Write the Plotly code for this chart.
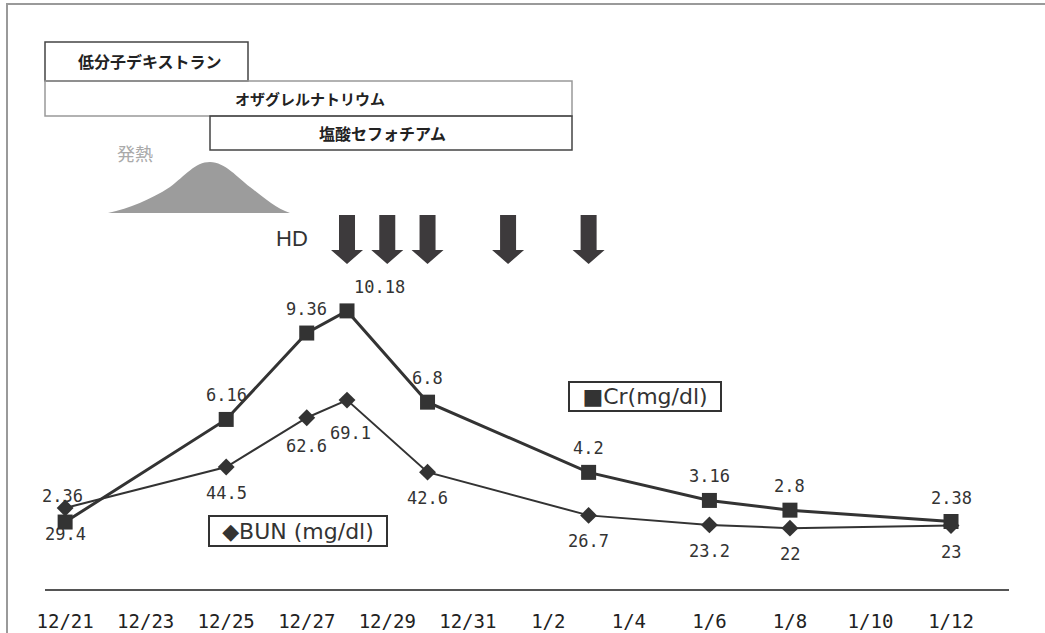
import pandas as pd
import plotly.graph_objects as go

# Lab values on measurement days
dates = ["2000-12-21", "2000-12-25", "2000-12-27", "2000-12-28", "2000-12-30",
         "2001-01-03", "2001-01-06", "2001-01-08", "2001-01-12"]
cr = [2.36, 6.16, 9.36, 10.18, 6.8, 4.2, 3.16, 2.8, 2.38]
bun = [29.4, 44.5, 62.6, 69.1, 42.6, 26.7, 23.2, 22, 23]

# Hemodialysis sessions
hd_dates = ["2000-12-28", "2000-12-29", "2000-12-30", "2001-01-01", "2001-01-03"]

# Date ticks
tick_dates = ["2000-12-21", "2000-12-23", "2000-12-25", "2000-12-27", "2000-12-29",
              "2000-12-31", "2001-01-02", "2001-01-04", "2001-01-06", "2001-01-08",
              "2001-01-10", "2001-01-12"]
tick_labels = ["12/21", "12/23", "12/25", "12/27", "12/29", "12/31",
               "1/2", "1/4", "1/6", "1/8", "1/10", "1/12"]

# Drug administration bars
drugs = ["低分子デキストラン", "オザグレルナトリウム", "塩酸セフォチアム"]

W, H = 1045, 633
ML, MR, MT, MB = 45, 36, 49, 44
PW, PH = W - ML - MR, H - MT - MB
INK = "#333333"


def px(x):
    """canvas pixel x -> paper fraction"""
    return (x - ML) / PW


def py(y):
    """canvas pixel y -> paper fraction"""
    return (H - MB - y) / PH


def note(x, y, text, font, **kw):
    """centred paper-positioned text"""
    return dict(x=px(x), y=py(y), xref="paper", yref="paper", text=text,
                showarrow=False, xanchor="center", yanchor="middle",
                font=font, **kw)


start = pd.Timestamp(dates[0])
x_range = [start + pd.Timedelta(days=-0.5), start + pd.Timedelta(days=23.44)]

fig = go.Figure()
fig.add_trace(go.Scatter(
    x=dates, y=cr, mode="lines+markers", name="Cr",
    line=dict(color=INK, width=3),
    marker=dict(symbol="square", size=15, color=INK),
    yaxis="y", hoverinfo="skip"))
fig.add_trace(go.Scatter(
    x=dates, y=bun, mode="lines+markers", name="BUN",
    line=dict(color=INK, width=2),
    marker=dict(symbol="diamond", size=13, color=INK),
    yaxis="y2", hoverinfo="skip"))

annotations = []
shapes = []

# value labels: Cr above, BUN below
cr_shift = {0: (-3, 26), 3: (32, 24)}
bun_shift = {2: (0, -28), 3: (3, -33), 8: (0, -27)}
label_font = dict(family="DejaVu Sans Mono", size=17, color=INK)
for i, (d, v) in enumerate(zip(dates, cr)):
    dx, dy = cr_shift.get(i, (0, 24))
    annotations.append(dict(x=d, y=v, xref="x", yref="y", text=f"{v:g}",
                            showarrow=False, xshift=dx, yshift=dy,
                            xanchor="center", yanchor="middle",
                            font=label_font))
for i, (d, v) in enumerate(zip(dates, bun)):
    dx, dy = bun_shift.get(i, (0, -26))
    annotations.append(dict(x=d, y=v, xref="x", yref="y2", text=f"{v:g}",
                            showarrow=False, xshift=dx, yshift=dy,
                            xanchor="center", yanchor="middle",
                            font=label_font))

# series name boxes
legend_font = dict(family="DejaVu Sans", size=22, color=INK)
annotations.append(note(645, 397, "■Cr(mg/dl)", legend_font,
                        bordercolor=INK, borderwidth=2, borderpad=0,
                        width=150, height=27, bgcolor="white"))
annotations.append(note(298, 531, "◆BUN (mg/dl)", legend_font,
                        bordercolor=INK, borderwidth=2, borderpad=0,
                        width=176, height=28, bgcolor="white"))

# drug bars
boxes = [(45, 42, 248, 81, "#444444"), (45, 81, 572, 116, "#999999"),
         (210, 116, 572, 150, "#444444")]
for (x0, y0, x1, y1, col), name in zip(boxes, drugs):
    shapes.append(dict(type="rect", xref="paper", yref="paper",
                       x0=px(x0), x1=px(x1), y0=py(y1), y1=py(y0),
                       line=dict(color=col, width=1.5), layer="above"))
text_pos = [(150, 61, 16), (310, 99, 15), (382, 133, 16)]
for (tx, ty, fs), name in zip(text_pos, drugs):
    annotations.append(note(tx, ty, f"<b>{name}</b>",
                            dict(family="Noto Sans CJK JP", size=fs, color="#222")))

# fever
bell = [(108, 213), (130, 208), (150, 200), (170, 187), (185, 176), (195, 162),
        (210, 162), (225, 162), (238, 178), (250, 187), (262, 196), (275, 208),
        (290, 213)]
pts = [f"{px(a):.5f},{py(b):.5f}" for a, b in bell]
path = "M" + pts[0]
for k in range(1, len(pts), 3):
    path += " C" + " ".join(pts[k:k + 3])
path += " Z"
shapes.append(dict(type="path", xref="paper", yref="paper", path=path,
                   fillcolor="#9c9c9c", line=dict(width=0)))
annotations.append(note(135, 153, "発熱",
                        dict(family="Noto Sans CJK JP", size=18, color="#aaaaaa")))

# HD arrows
annotations.append(note(292, 238, "HD",
                        dict(family="Liberation Sans", size=22, color=INK)))
yt, yh, ytip = py(215), py(250), py(264)
arrow = (f"M-8,{yt} L8,{yt} L8,{yh} L16,{yh} L0,{ytip} "
         f"L-16,{yh} L-8,{yh} Z")
for d in hd_dates:
    shapes.append(dict(type="path", xref="x", yref="paper", xsizemode="pixel",
                       xanchor=d, path=arrow, fillcolor="#3d3a3c",
                       line=dict(width=0)))

# outer frame
shapes.append(dict(type="rect", xref="paper", yref="paper",
                   x0=px(7), x1=px(1060), y0=py(650), y1=py(4),
                   line=dict(color="#9a9a9a", width=2)))

fig.update_layout(
    width=W, height=H,
    margin=dict(l=ML, r=MR, t=MT, b=MB, autoexpand=False),
    paper_bgcolor="white", plot_bgcolor="white",
    showlegend=False,
    xaxis=dict(type="date", range=x_range, tickvals=tick_dates,
               ticktext=tick_labels, showgrid=False, zeroline=False,
               showline=True, linecolor="#555555", linewidth=2,
               ticks="", ticklabelstandoff=14, automargin=False,
               tickfont=dict(family="DejaVu Sans Mono", size=19, color="#222")),
    yaxis=dict(range=[-0.12, 19.88], visible=False, automargin=False),
    yaxis2=dict(range=[-0.37, 198.2], overlaying="y", visible=False,
                automargin=False),
    annotations=annotations,
    shapes=shapes,
)

fig.write_html("out.html")
